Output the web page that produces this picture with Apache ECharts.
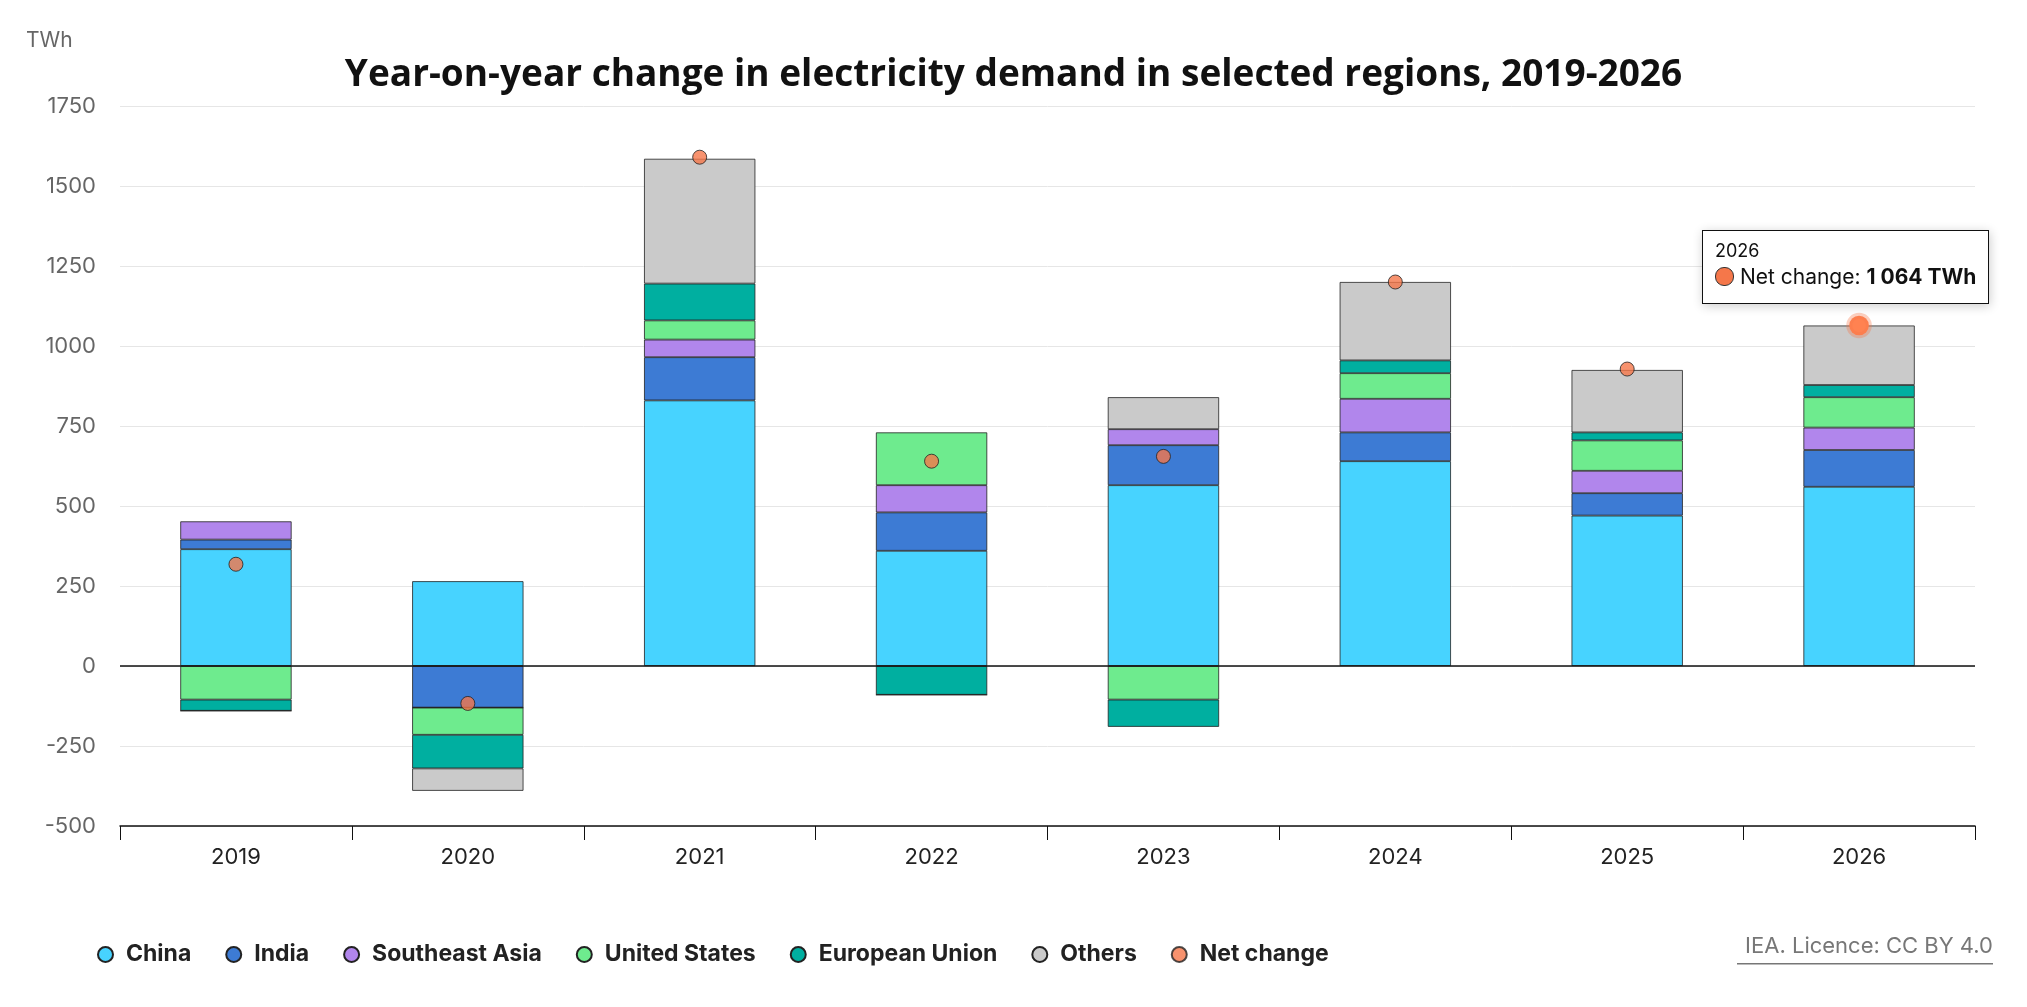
<!DOCTYPE html>
<html lang="en">
<head>
<meta charset="utf-8">
<script src="https://cdn.jsdelivr.net/npm/echarts@6/dist/echarts.min.js"></script>
<title>electricity_demand</title>
</head>
<body>
<style>
    html, body, #main { width: 100%; height: 100%; margin: 0; background: #fff; }
</style>
<div id='main'></div>
<script>
    var years = ['2019', '2020', '2021', '2022', '2023', '2024', '2025', '2026'];
    var china = [365, 265, 830, 360, 565, 640, 470, 560];
    var india = [30, -130, 135, 120, 125, 90, 70, 115];
    var seAsia = [57, 0, 55, 85, 50, 105, 70, 70];
    var us = [-105, -85, 60, 165, -105, 80, 95, 95];
    var eu = [-35, -105, 115, -90, -85, 40, 25, 38];
    var others = [0, -70, 390, 0, 100, 245, 195, 186];
    var netChange = [318, -117, 1590, 640, 655, 1200, 928, 1064];
    var yTicks = [-500, 1750, 250];

    var chart = echarts.init(document.getElementById('main'));
    var font = 'Inter, "Noto Sans", sans-serif';

    function bar(name, data, color) {
        return {
            name: name, type: 'bar', stack: 'total', data: data, barWidth: '48%',
            itemStyle: { color: color, borderColor: '#222', borderWidth: 0.8 },
            tooltip: { show: false }
        };
    }

    option = {
        textStyle: { fontFamily: font },
        title: {
            text: 'Year-on-year change in electricity demand in selected regions, 2019-2026',
            left: 'center', top: 52,
            textStyle: { fontSize: 37, fontWeight: 'bold', color: '#111', fontFamily: '"Open Sans", sans-serif' }
        },
        grid: { left: 120, right: 52, top: 106, bottom: 181, containLabel: false },
        legend: {
            left: 92, top: 938, itemWidth: 15, itemHeight: 15, itemGap: 34, icon: 'circle',
            textStyle: { fontSize: 23, fontWeight: 'bold', color: '#222', padding: [0, 0, 0, 8] },
            data: ['China', 'India', 'Southeast Asia', 'United States', 'European Union', 'Others', 'Net change']
        },
        tooltip: {
            trigger: 'item', alwaysShowContent: true,
            position: function (pt, params, dom, rect, size) {
                return [pt[0] - size.contentSize[0] / 2 - 14, pt[1] - size.contentSize[1] - 22];
            },
            backgroundColor: '#fff', borderColor: '#111', borderWidth: 1.5, borderRadius: 0,
            padding: [10, 12],
            textStyle: { fontSize: 21, color: '#111' },
            formatter: function (p) {
                return '<div style="font-size:18px;line-height:20px">' + p.name + '</div>' +
                    '<span style="display:inline-block;width:17px;height:17px;border-radius:9px;background:#F5774A;border:1px solid #333;vertical-align:-2px"></span> ' +
                    'Net change: <b>' + (p.value === 1064 ? '1 064' : p.value) + ' TWh</b>';
            }
        },
        xAxis: {
            type: 'category', data: years,
            axisLine: { onZero: false, lineStyle: { color: '#111', width: 1.5 } },
            axisTick: { show: true, length: 14, lineStyle: { color: '#111' } },
            axisLabel: { fontSize: 22, color: '#222', margin: 20 }
        },
        yAxis: {
            type: 'value', min: yTicks[0], max: yTicks[1], interval: yTicks[2],
            axisLabel: { fontSize: 22, color: '#666', margin: 24, align: 'right', formatter: function (v) { return String(v); } },
            splitLine: { lineStyle: { color: '#e6e6e6' } },
            axisLine: { show: false }, axisTick: { show: false }
        },
        series: [
            bar('China', china, '#47D3FF'),
            bar('India', india, '#3D7BD4'),
            bar('Southeast Asia', seAsia, '#B186EC'),
            bar('United States', us, '#6EEB8E'),
            bar('European Union', eu, '#00AFA0'),
            bar('Others', others, '#CACACA'),
            {
                name: 'Net change', type: 'scatter', data: netChange, symbolSize: 14, z: 10,
                itemStyle: { color: '#F5774A', borderColor: '#222', borderWidth: 1 },
                emphasis: { scale: 1.4, itemStyle: { borderColor: 'rgba(245,119,74,0.35)', borderWidth: 6, opacity: 1 } }
            },
            {
                type: 'line', data: [], silent: true,
                markLine: {
                    silent: true, symbol: 'none', label: { show: false },
                    lineStyle: { color: '#111', type: 'solid', width: 1.5 },
                    data: [{ yAxis: 0 }]
                }
            }
        ],
        graphic: [{
            type: 'text', left: 26, top: 30,
            style: { text: 'TWh', fontSize: 21, fill: '#666', fontFamily: font }
        }, {
            type: 'text', right: 34, top: 935,
            style: { text: 'IEA. Licence: CC BY 4.0', fontSize: 22, fill: '#777', fontFamily: font }
        }, {
            type: 'rect', right: 34, top: 963, shape: { width: 256, height: 1.5 }, style: { fill: '#777' }
        }]
    };
    chart.setOption(option);
    chart.dispatchAction({ type: 'showTip', seriesIndex: 6, dataIndex: 7 });
    chart.dispatchAction({ type: 'highlight', seriesIndex: 6, dataIndex: 7 });

    window.onresize = chart.resize;
</script>
</body>
</html>
